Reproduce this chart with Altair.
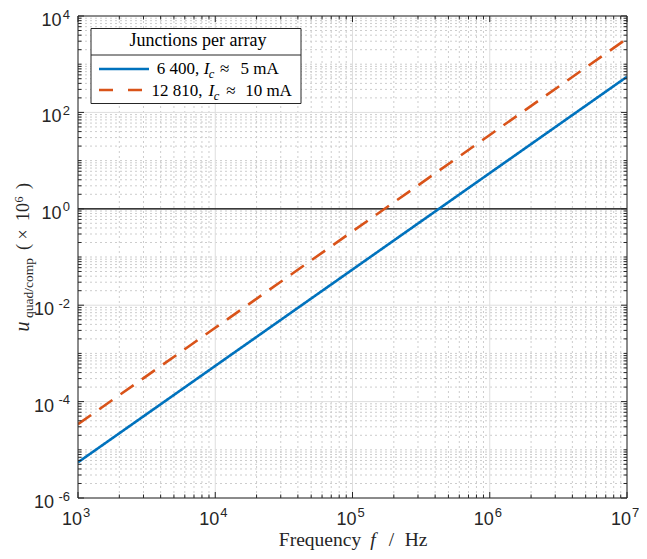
import altair as alt
import pandas as pd

# ---- data ----
freq = [1e3, 1e4, 1e5, 1e6, 1e7]
u_6400 = [5.5e-6, 5.5e-4, 5.5e-2, 5.5, 550.0]
u_12810 = [3.4e-5, 3.4e-3, 0.34, 34.0, 3400.0]
series_names = ["6 400", "12 810"]

x_major = [1e3, 1e4, 1e5, 1e6, 1e7]
x_exp = ["3", "4", "5", "6", "7"]
y_major_pos = [1e0, 1e2, 1e4]
y_exp_pos = ["0", "2", "4"]
y_major_neg = [1e-6, 1e-4, 1e-2]
y_exp_neg = ["-6", "-4", "-2"]
minor_mult = [2, 3, 4, 5, 6, 7, 8, 9]
x_decades = [3, 4, 5, 6]
y_decades = [-6, -5, -4, -3, -2, -1, 0, 1, 2, 3]
y_odd = [1e-5, 1e-3, 1e-1, 1e1, 1e3]

x_minor = [m * 10.0 ** d for d in x_decades for m in minor_mult]
y_minor = [m * 10.0 ** d for d in y_decades for m in minor_mult] + y_odd

# ---- style ----
W, H = 549, 482
BLUE, ORANGE, INK = "#0072BD", "#D95319", "#262626"
SERIF, SANS = "Liberation Serif", "Liberation Sans"

xs = alt.Scale(type="log", domain=[1e3, 1e7], nice=False)
ys = alt.Scale(type="log", domain=[1e-6, 1e4], nice=False)
one = pd.DataFrame({"k": [0]})


def X(f):
    return alt.X(f"{f}:Q", scale=xs, axis=None)


def Y(f):
    return alt.Y(f"{f}:Q", scale=ys, axis=None)


def T(s, x, y, size, font=SERIF, style="normal", align="center", angle=0, color=INK):
    kw = dict(text=s, align=align, baseline="alphabetic", fontSize=size,
              font=font, fontStyle=style, color=color)
    if angle:
        kw["angle"] = angle
    return alt.Chart(one).mark_text(**kw).encode(x=alt.value(x), y=alt.value(y))


layers = []

# grids
gx_minor = alt.Chart(pd.DataFrame({"v": x_minor})).mark_rule(
    color="#cdcdcd", strokeDash=[2, 3], strokeWidth=1).encode(x=X("v"))
gy_minor = alt.Chart(pd.DataFrame({"v": y_minor})).mark_rule(
    color="#cdcdcd", strokeDash=[2, 3], strokeWidth=1).encode(y=Y("v"))
gx_major = alt.Chart(pd.DataFrame({"v": x_major})).mark_rule(
    color="#dedede", strokeWidth=1).encode(x=X("v"))
gy_major = alt.Chart(pd.DataFrame({"v": y_major_neg + y_major_pos})).mark_rule(
    color="#dedede", strokeWidth=1).encode(y=Y("v"))
layers += [gx_minor, gy_minor, gx_major, gy_major]

# unity line
layers.append(alt.Chart(pd.DataFrame({"v": [1.0]})).mark_rule(
    color="#000000", strokeWidth=1.2).encode(y=Y("v")))

# data lines
df = pd.DataFrame({
    "f": freq + freq,
    "u": u_6400 + u_12810,
    "s": [series_names[0]] * len(freq) + [series_names[1]] * len(freq),
})
lines = alt.Chart(df).mark_line(strokeWidth=2.6, clip=True).encode(
    x=X("f"), y=Y("u"),
    color=alt.Color("s:N", scale=alt.Scale(domain=series_names, range=[BLUE, ORANGE]), legend=None),
    strokeDash=alt.StrokeDash("s:N", scale=alt.Scale(domain=series_names, range=[[1, 0], [16, 10]]), legend=None),
)
layers.append(lines)

# frame
layers.append(alt.Chart(one).mark_rect(filled=False, stroke=INK, strokeWidth=1).encode(
    x=alt.value(0), x2=alt.value(W), y=alt.value(0), y2=alt.value(H)))


# inner ticks
def xticks(vals, L):
    d = pd.DataFrame({"v": vals})
    b = alt.Chart(d).mark_rule(color=INK, strokeWidth=1).encode(x=X("v"), y=alt.value(H), y2=alt.value(H - L))
    t = alt.Chart(d).mark_rule(color=INK, strokeWidth=1).encode(x=X("v"), y=alt.value(0), y2=alt.value(L))
    return [b, t]


def yticks(vals, L):
    d = pd.DataFrame({"v": vals})
    l = alt.Chart(d).mark_rule(color=INK, strokeWidth=1).encode(y=Y("v"), x=alt.value(0), x2=alt.value(L))
    r = alt.Chart(d).mark_rule(color=INK, strokeWidth=1).encode(y=Y("v"), x=alt.value(W), x2=alt.value(W - L))
    return [l, r]


layers += xticks(x_major, 6) + xticks(x_minor, 3.5)
layers += yticks(y_major_neg + y_major_pos, 6) + yticks(y_minor, 3.5)

# tick labels (base "10" + superscript exponent)
xl = pd.DataFrame({"v": x_major, "e": x_exp})
layers.append(alt.Chart(xl).mark_text(text="10", align="right", dx=4, baseline="alphabetic",
                                      fontSize=18, font=SANS, color=INK).encode(x=X("v"), y=alt.value(H + 27)))
layers.append(alt.Chart(xl).mark_text(align="left", dx=5, baseline="alphabetic",
                                      fontSize=13, font=SANS, color=INK).encode(x=X("v"), y=alt.value(H + 19), text="e:N"))

for vals, exps, base_dx in [(y_major_pos, y_exp_pos, -16.5), (y_major_neg, y_exp_neg, -24)]:
    yl = pd.DataFrame({"v": vals, "e": exps})
    layers.append(alt.Chart(yl).mark_text(text="10", align="right", dx=base_dx, dy=10, baseline="alphabetic",
                                          fontSize=18, font=SANS, color=INK).encode(x=alt.value(0), y=Y("v")))
    layers.append(alt.Chart(yl).mark_text(align="right", dx=-8, dy=2.5, baseline="alphabetic",
                                          fontSize=13, font=SANS, color=INK).encode(x=alt.value(0), y=Y("v"), text="e:N"))

# x title
layers += [
    T("Frequency", 242, H + 48, 19.5),
    T("f", 295, H + 48, 19.5, style="italic"),
    T("/", 313.5, H + 48, 19.5),
    T("Hz", 338, H + 48, 19.5),
]

# y title (rotated)
layers += [
    T("u", -49, 310.5, 20, style="italic", angle=270),
    T("quad/comp", -45.5, 272, 13.5, angle=270),
    T("(", -49, 231, 18, angle=270),
    T("×", -49, 218.5, 18, angle=270),
    T("10", -49, 196, 18, angle=270),
    T("6", -55, 183.5, 12, angle=270),
    T(")", -49, 170, 18, angle=270),
]

# legend
layers.append(alt.Chart(one).mark_rect(fill="white", stroke=INK, strokeWidth=1).encode(
    x=alt.value(13), x2=alt.value(223), y=alt.value(12.5), y2=alt.value(87.5)))
layers.append(alt.Chart(one).mark_rule(color=INK, strokeWidth=1).encode(
    x=alt.value(13), x2=alt.value(223), y=alt.value(39)))
layers.append(alt.Chart(one).mark_rule(color=BLUE, strokeWidth=2.6).encode(
    x=alt.value(21), x2=alt.value(71), y=alt.value(53)))
layers.append(alt.Chart(one).mark_rule(color=ORANGE, strokeWidth=2.6, strokeDash=[14, 15]).encode(
    x=alt.value(21), x2=alt.value(71), y=alt.value(74)))
layers += [
    T("Junctions per array", 120, 30, 18, color="#000000"),
    T("6 400,", 100, 57.5, 17, color="#000000"),
    T("I", 128.5, 57.5, 17, style="italic", color="#000000"),
    T("c", 133.5, 61.5, 12.5, style="italic", color="#000000"),
    T("≈", 146.7, 57.5, 17, color="#000000"),
    T("5 mA", 181.7, 57.5, 17, color="#000000"),
    T("12 810,", 99, 79.5, 17, color="#000000"),
    T("I", 133.3, 79.5, 17, style="italic", color="#000000"),
    T("c", 138.5, 83.5, 12.5, style="italic", color="#000000"),
    T("≈", 153, 79.5, 17, color="#000000"),
    T("10 mA", 190.5, 79.5, 17, color="#000000"),
]

chart = alt.layer(*layers).properties(
    width=W, height=H,
    autosize=alt.AutoSizeParams(type="none"),
    padding={"left": 70, "top": 8, "right": 12, "bottom": 53},
).configure_view(stroke=None)

chart.save("out.html", embed_options={"renderer": "svg", "actions": False})
